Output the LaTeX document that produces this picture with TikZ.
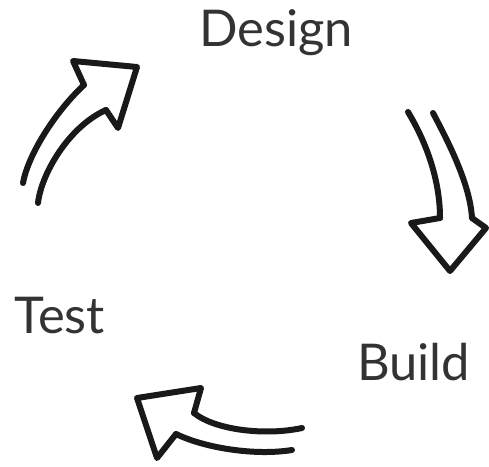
\documentclass[tikz,border=0pt]{standalone}
\usepackage{fontspec}
\setmainfont{Lato}
\usepackage{tikz}

\begin{document}
\begin{tikzpicture}[x=0.75pt,y=-0.75pt,line cap=round,line join=round,
  stroke/.style={line width=4.5pt,black!90},
  word/.style={anchor=base west,inner sep=0pt,text=black!80,font=\fontsize{38}{42}\selectfont}]
\useasboundingbox (0,0) rectangle (489,467);
\node[word] (design) at (199,47) {Design};
\node[word] (build) at (357,380) {Build};
\node[word] (test) at (14,333) {Test};
% up arrow, left side
\draw[stroke] (23,183) .. controls (28,155) and (55,112) .. (84,85);
\draw[stroke] (38,203) .. controls (41,175) and (68,127) .. (106,110);
\draw[stroke] (84,85) -- (73,61) -- (137,67) -- (118,128) -- (106,110);
% down arrow, right side
\draw[stroke] (408,112) .. controls (425,140) and (440,178) .. (440,218);
\draw[stroke] (433,113) .. controls (450,145) and (470,185) .. (472,218);
\draw[stroke] (440,218) -- (411,223) -- (450,271) -- (486,228) -- (472,218);
% back arrow, bottom
\draw[stroke] (302,428) .. controls (265,436) and (215,430) .. (194,413);
\draw[stroke] (292,450) .. controls (255,456) and (205,448) .. (176,434);
\draw[stroke] (194,413) -- (201,388) -- (137,398) -- (157,458) -- (176,434);
\end{tikzpicture}
\end{document}
